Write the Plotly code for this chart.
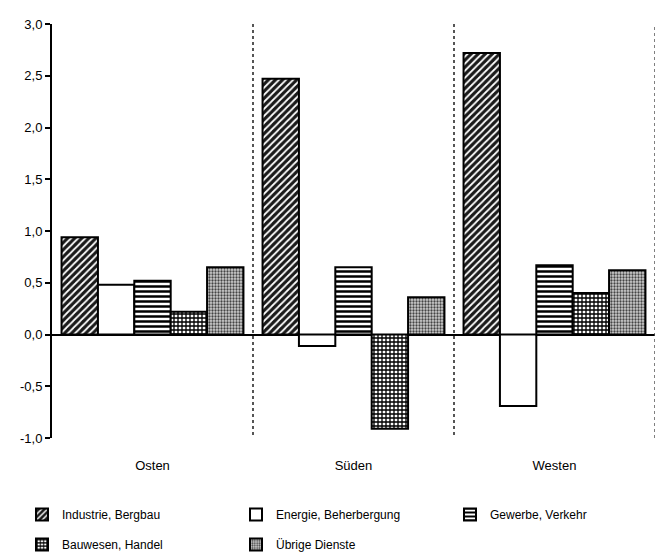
import plotly.graph_objects as go

regions = ["Osten", "Süden", "Westen"]
series_names = ["Industrie, Bergbau", "Energie, Beherbergung", "Gewerbe, Verkehr",
                "Bauwesen, Handel", "Übrige Dienste"]
industrie = [0.94, 2.47, 2.72]
energie = [0.48, -0.11, -0.69]
gewerbe = [0.52, 0.65, 0.67]
bauwesen = [0.22, -0.91, 0.40]
uebrige = [0.65, 0.36, 0.62]
y_tickvals = [3.0, 2.5, 2.0, 1.5, 1.0, 0.5, 0.0, -0.5, -1.0]
y_ticktext = ["3,0", "2,5", "2,0", "1,5", "1,0", "0,5", "0,0", "-0,5", "-1,0"]

values = [industrie, energie, gewerbe, bauwesen, uebrige]
patterns = [
    dict(shape="/", fgcolor="white", bgcolor="#1a1a1a", size=5, solidity=0.35, fillmode="replace"),
    dict(shape="", fgcolor="black", bgcolor="white", fillmode="replace"),
    dict(shape="-", fgcolor="black", bgcolor="white", size=5, solidity=0.5, fillmode="replace"),
    dict(shape="+", fgcolor="black", bgcolor="white", size=4, solidity=0.55, fillmode="replace"),
    dict(shape=".", fgcolor="#444", bgcolor="#cfcfcf", size=3, solidity=0.45, fillmode="replace"),
]
base_colors = ["#1a1a1a", "white", "white", "white", "#cfcfcf"]
# legend column assignment (three columns, two rows)
legends = ["legend", "legend2", "legend3", "legend", "legend2"]

fig = go.Figure()
for name, vals, pat, col, lg in zip(series_names, values, patterns, base_colors, legends):
    fig.add_trace(go.Bar(
        x=regions, y=vals, name=name, legend=lg, legendgroup=name,
        marker=dict(color=col, pattern=pat, line=dict(color="black", width=2)),
    ))

# invisible trace to activate xaxis2 gridlines
fig.add_trace(go.Scatter(x=[0.5], y=[0], xaxis="x2", mode="markers",
                         marker=dict(opacity=0), showlegend=False, hoverinfo="skip"))

# the page body has an 8px margin, so the figure is 8px smaller than the window
W, H = 655, 549
leg_common = dict(orientation="v", yanchor="top", xanchor="left",
                  xref="container", yref="container", y=1 - 492 / H,
                  font=dict(size=12), itemwidth=30, tracegroupgap=11,
                  bgcolor="rgba(0,0,0,0)")

fig.update_layout(
    width=W, height=H,
    margin=dict(l=44, r=8, t=16, b=119, autoexpand=False),
    paper_bgcolor="white", plot_bgcolor="white",
    font=dict(family="Liberation Sans, Arial, sans-serif", size=13, color="black"),
    barmode="group", bargap=0.095, bargroupgap=0,
    xaxis=dict(type="category", range=[-0.5, 2.5], showgrid=False, showline=False,
               ticks="", zeroline=False, ticklabelstandoff=18, tickfont=dict(size=13)),
    xaxis2=dict(overlaying="x", range=[-0.5, 2.5], tickvals=[0.5, 1.5, 2.5],
                showticklabels=False, showgrid=True, gridcolor="#555", griddash="dot",
                gridwidth=1.5, showline=False, ticks="", zeroline=False),
    yaxis=dict(range=[-1, 3], tickvals=y_tickvals, ticktext=y_ticktext,
               showgrid=False, showline=True, linecolor="black", linewidth=2,
               ticks="outside", ticklen=5, tickcolor="black", tickwidth=1.5,
               zeroline=True, zerolinecolor="black", zerolinewidth=2,
               tickfont=dict(size=13)),
    legend=dict(x=14 / W, **leg_common),
    legend2=dict(x=228 / W, **leg_common),
    legend3=dict(x=442 / W, **leg_common),
    shapes=[dict(type="line", xref="x2", yref="paper", x0=2.5, x1=2.5, y0=0, y1=1,
                 line=dict(color="#555", width=1.5, dash="dot"))],
)

fig.write_html("out.html")
